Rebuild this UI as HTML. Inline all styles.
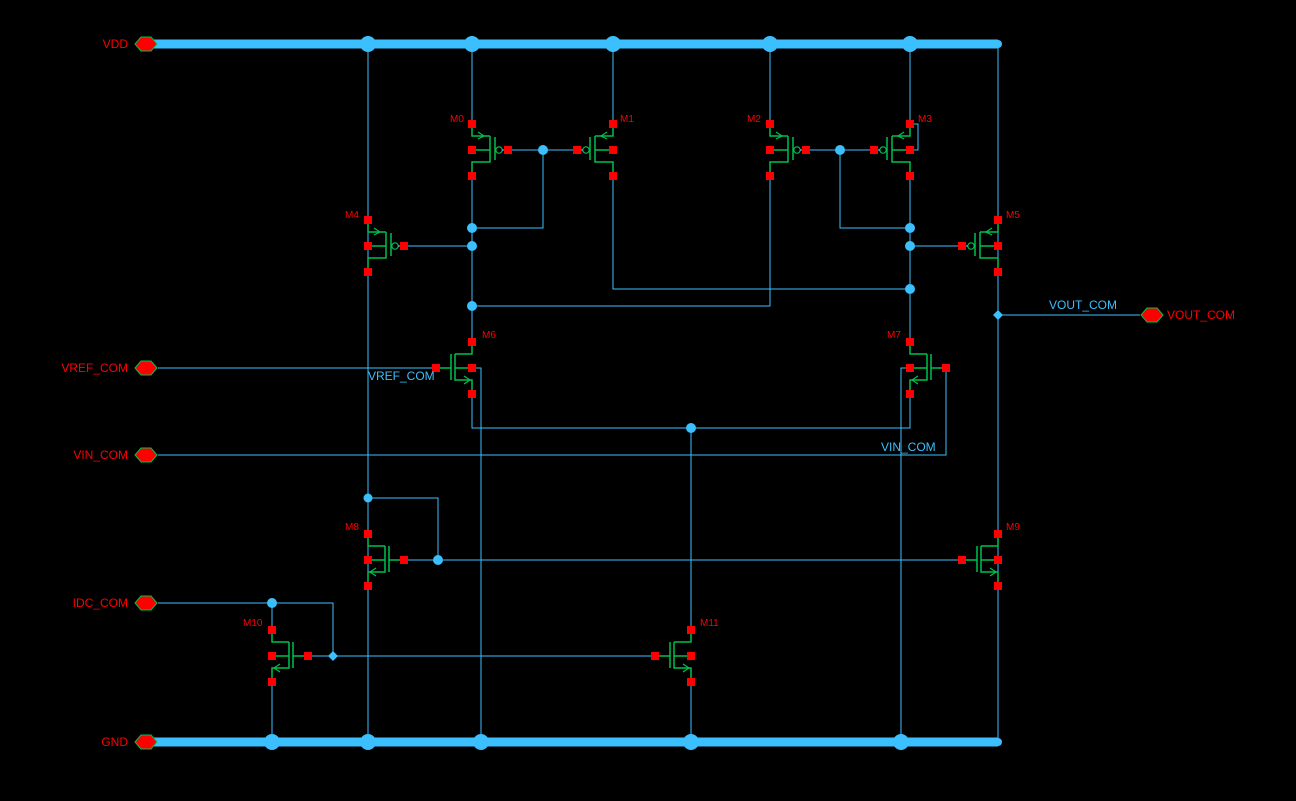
<!DOCTYPE html>
<html><head><meta charset="utf-8"><style>
html,body{margin:0;padding:0;background:#000;}
svg{display:block;}
text{font-family:"Liberation Sans",sans-serif;font-size:11px;}
.r{fill:#ff0000;}
.b{fill:#3cbfff;}
</style></head><body>
<svg width="1296" height="801" viewBox="0 0 1296 801" xmlns="http://www.w3.org/2000/svg">
<defs>
<g id="pm">
  <path d="M0,-22V-14H18M0,0H18M18,-14V12H0V22M23,-13V10" stroke="#00c050" stroke-width="1.5" fill="none"/>
  <path d="M6,-18L12,-14L6,-11" stroke="#00c050" stroke-width="1.2" fill="none"/>
  <circle cx="27" cy="0" r="3.2" stroke="#00c050" stroke-width="1.2" fill="none"/>
  <path d="M30,0H36" stroke="#3cbfff" stroke-width="1.2"/>
  <rect x="-4" y="-30" width="8" height="8" fill="#f00"/>
  <rect x="-4" y="-4" width="8" height="8" fill="#f00"/>
  <rect x="-4" y="22" width="8" height="8" fill="#f00"/>
  <rect x="32" y="-4" width="8" height="8" fill="#f00"/>
</g>
<g id="nm">
  <path d="M0,-22V-14H17M0,0H17M17,-14V12H0V22M21,-14V12M21,0H36" stroke="#00c050" stroke-width="1.5" fill="none"/>
  <path d="M8,8L2,12L8,16" stroke="#00c050" stroke-width="1.2" fill="none"/>
  <rect x="-4" y="-30" width="8" height="8" fill="#f00"/>
  <rect x="-4" y="-4" width="8" height="8" fill="#f00"/>
  <rect x="-4" y="22" width="8" height="8" fill="#f00"/>
  <rect x="32" y="-4" width="8" height="8" fill="#f00"/>
</g>
<polygon id="hex" points="-11,0 -5,-7 5,-7 11,0 5,7 -5,7" fill="#f00" stroke="#00c050" stroke-width="1"/>
</defs>

<g stroke="#3cbfff" stroke-width="1" fill="none">
  <path d="M368,44V742"/>
  <path d="M472,44V124M472,176V342M472,394V428H910V394"/>
  <path d="M613,44V124M613,176V289H910"/>
  <path d="M770,44V124M770,176V306H472"/>
  <path d="M910,44V124M910,176V342"/>
  <path d="M910,124H918V150H910"/>
  <path d="M998,44V742M998,315H1140"/>
  <path d="M508,150H578M543,150V228H472"/>
  <path d="M806,150H874M840,150V228H910"/>
  <path d="M404,246H472M962,246H910"/>
  <path d="M472,368H481V742M910,368H901V742"/>
  <path d="M158,368H436"/>
  <path d="M158,455H946V368"/>
  <path d="M691,428V630M691,682V742"/>
  <path d="M368,498H438V560M404,560H962"/>
  <path d="M158,603H333V656M272,603V630M308,656H656M272,682V742"/>
</g>
<path d="M152,44H998M152,742H998" stroke="#3cbfff" stroke-width="9"/>
<g class="b">
  <circle cx="368" cy="44" r="8"/><circle cx="472" cy="44" r="8"/><circle cx="613" cy="44" r="8"/><circle cx="770" cy="44" r="8"/><circle cx="910" cy="44" r="8"/><circle cx="998" cy="44" r="4"/>
  <circle cx="272" cy="742" r="8"/><circle cx="368" cy="742" r="8"/><circle cx="481" cy="742" r="8"/><circle cx="691" cy="742" r="8"/><circle cx="901" cy="742" r="8"/><circle cx="998" cy="742" r="4"/>
  <circle cx="543" cy="150" r="5"/><circle cx="840" cy="150" r="5"/>
  <circle cx="472" cy="228" r="5"/><circle cx="472" cy="246" r="5"/><circle cx="472" cy="306" r="5"/>
  <circle cx="910" cy="228" r="5"/><circle cx="910" cy="246" r="5"/><circle cx="910" cy="289" r="5"/>
  <circle cx="691" cy="428" r="5"/><circle cx="368" cy="498" r="4.5"/><circle cx="438" cy="560" r="5"/>
  <circle cx="272" cy="603" r="5"/>
  <polygon points="998,310 1003,315 998,320 993,315"/>
  <polygon points="333,651 338,656 333,661 328,656"/>
</g>

<use href="#pm" transform="translate(472,150)"/>
<use href="#pm" transform="translate(613,150) scale(-1,1)"/>
<use href="#pm" transform="translate(770,150)"/>
<use href="#pm" transform="translate(910,150) scale(-1,1)"/>
<use href="#pm" transform="translate(368,246)"/>
<use href="#pm" transform="translate(998,246) scale(-1,1)"/>
<use href="#nm" transform="translate(472,368) scale(-1,1)"/>
<use href="#nm" transform="translate(910,368)"/>
<use href="#nm" transform="translate(368,560)"/>
<use href="#nm" transform="translate(998,560) scale(-1,1)"/>
<use href="#nm" transform="translate(272,656)"/>
<use href="#nm" transform="translate(691,656) scale(-1,1)"/>

<g class="r">
  <text x="450" y="122" style="font-size:10px">M0</text>
  <text x="620" y="122" style="font-size:10px">M1</text>
  <text x="747" y="122" style="font-size:10px">M2</text>
  <text x="918" y="122" style="font-size:10px">M3</text>
  <text x="345" y="218" style="font-size:10px">M4</text>
  <text x="1006" y="218" style="font-size:10px">M5</text>
  <text x="482" y="338" style="font-size:10px">M6</text>
  <text x="887" y="338" style="font-size:10px">M7</text>
  <text x="345" y="530" style="font-size:10px">M8</text>
  <text x="1006" y="530" style="font-size:10px">M9</text>
  <text x="243" y="626" style="font-size:10px">M10</text>
  <text x="700" y="626" style="font-size:10px">M11</text>
</g>

<use href="#hex" transform="translate(146,44)"/>
<use href="#hex" transform="translate(146,368)"/>
<use href="#hex" transform="translate(146,455)"/>
<use href="#hex" transform="translate(146,603)"/>
<use href="#hex" transform="translate(146,742)"/>
<use href="#hex" transform="translate(1152,315)"/>
<g class="r" text-anchor="end" style="font-size:12px">
  <text x="128" y="48" style="font-size:12px">VDD</text>
  <text x="128" y="372" style="font-size:12px">VREF_COM</text>
  <text x="128" y="459" style="font-size:12px">VIN_COM</text>
  <text x="128" y="607" style="font-size:12px">IDC_COM</text>
  <text x="128" y="746" style="font-size:12px">GND</text>
</g>
<text class="r" x="1167" y="319" style="font-size:12px">VOUT_COM</text>
<g class="b">
  <text x="368" y="380" style="font-size:12px">VREF_COM</text>
  <text x="881" y="451" style="font-size:12px">VIN_COM</text>
  <text x="1049" y="309" style="font-size:12px">VOUT_COM</text>
</g>
</svg>
</body></html>
